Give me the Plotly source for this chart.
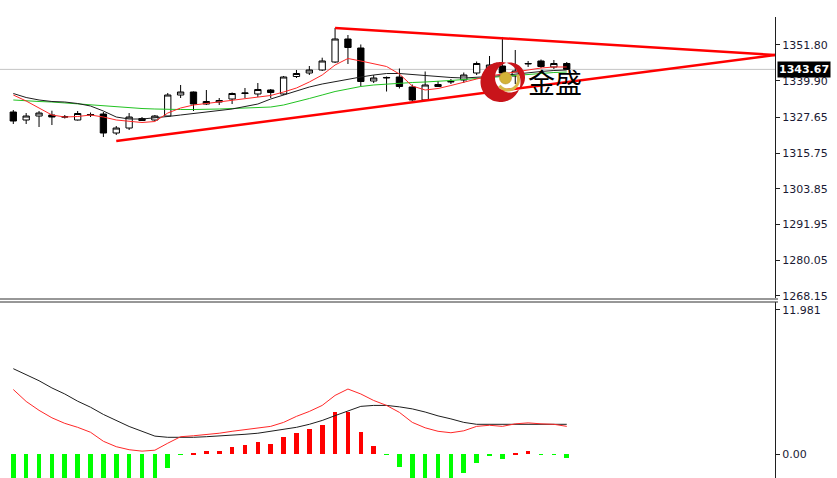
import numpy as np
import plotly.graph_objects as go
from plotly.subplots import make_subplots

# ---------------- data ----------------
bar_index = list(range(44))

opens = [1329.47, 1326.80, 1328.13, 1328.47, 1327.97, 1326.80, 1328.47, 1328.80, 1322.47, 1324.13,
         1327.30, 1326.80, 1328.13, 1335.13, 1336.13, 1332.13, 1332.80, 1333.80, 1335.63, 1335.47,
         1336.80, 1335.47, 1341.30, 1342.47, 1343.47, 1346.13, 1353.80, 1350.80, 1339.80, 1340.80,
         1341.13, 1337.80, 1333.47, 1337.97, 1339.47, 1340.13, 1342.47, 1342.80, 1344.80, 1341.47,
         1345.47, 1346.47, 1344.47, 1345.63]
highs = [1330.13, 1329.13, 1329.80, 1329.90, 1328.47, 1329.80, 1329.30, 1329.47, 1324.80, 1329.13,
         1327.80, 1328.47, 1335.80, 1338.47, 1336.30, 1336.80, 1334.13, 1335.97, 1337.47, 1339.13,
         1337.13, 1341.47, 1343.47, 1344.80, 1347.57, 1357.47, 1355.13, 1351.97, 1341.80, 1341.30,
         1343.97, 1338.63, 1342.97, 1339.80, 1340.47, 1342.63, 1346.30, 1348.13, 1354.47, 1350.13,
         1346.47, 1346.97, 1346.80, 1346.13]
lows = [1325.47, 1325.47, 1324.47, 1325.13, 1327.30, 1326.63, 1327.80, 1321.13, 1321.80, 1323.47,
        1326.47, 1326.47, 1327.80, 1334.13, 1329.80, 1331.80, 1331.80, 1332.13, 1334.13, 1334.47,
        1334.13, 1335.13, 1340.80, 1341.80, 1343.13, 1345.80, 1345.47, 1337.97, 1339.13, 1336.30,
        1337.30, 1332.97, 1333.13, 1337.80, 1338.80, 1339.13, 1341.80, 1340.80, 1340.13, 1338.80,
        1344.47, 1344.13, 1343.80, 1343.47]
closes = [1326.47, 1328.13, 1329.13, 1327.80, 1327.80, 1328.97, 1328.63, 1322.47, 1324.13, 1327.80,
          1326.63, 1328.13, 1335.13, 1336.13, 1332.13, 1332.97, 1333.30, 1335.63, 1335.80, 1336.97,
          1335.97, 1341.13, 1342.30, 1343.47, 1346.47, 1353.80, 1350.97, 1339.63, 1340.80, 1340.97,
          1337.97, 1333.47, 1338.47, 1338.63, 1339.63, 1341.80, 1345.63, 1345.13, 1342.47, 1343.13,
          1345.63, 1344.63, 1345.63, 1343.67]

ma_red = [1335.13, 1333.13, 1330.80, 1328.47, 1327.80, 1327.97, 1328.47, 1327.80, 1326.80, 1326.30,
          1325.97, 1326.30, 1329.13, 1330.80, 1331.80, 1332.30, 1332.80, 1333.47, 1333.97, 1334.47,
          1334.97, 1336.13, 1337.47, 1339.47, 1341.80, 1345.13, 1347.30, 1346.47, 1345.47, 1344.63,
          1342.13, 1338.13, 1336.80, 1337.30, 1338.30, 1339.47, 1340.47, 1341.47, 1342.13, 1342.80,
          1343.47, 1344.13, 1344.47, 1344.47]
ma_black = [1335.63, 1334.30, 1333.47, 1332.97, 1332.80, 1332.30, 1331.47, 1329.80, 1327.80, 1327.13,
            1327.13, 1327.47, 1327.97, 1328.47, 1328.97, 1329.47, 1329.80, 1330.47, 1331.30, 1332.13,
            1333.80, 1335.13, 1336.47, 1337.80, 1338.80, 1339.63, 1340.47, 1341.13, 1341.80, 1342.30,
            1342.30, 1341.97, 1341.47, 1341.13, 1340.97, 1340.80, 1340.97, 1341.30, 1341.63, 1342.13,
            1342.63, 1342.97, 1343.30, 1343.47]
ma_green = [1333.47, 1333.13, 1332.97, 1332.80, 1332.47, 1332.13, 1331.80, 1331.47, 1331.13, 1330.80,
            1330.63, 1330.47, 1330.30, 1330.30, 1330.30, 1330.30, 1330.47, 1330.63, 1330.80, 1330.97,
            1331.13, 1331.80, 1332.80, 1333.97, 1335.13, 1336.30, 1337.13, 1337.97, 1338.47, 1338.80,
            1339.13, 1339.30, 1339.47, 1339.63, 1339.97, 1340.30, 1340.63, 1341.13, 1341.47, 1341.80,
            1342.13, 1342.30, 1342.63, 1342.80]

trend_upper_x = [25, 59.18]
trend_upper_y = [1357.47, 1348.47]
trend_lower_x = [8, 59.18]
trend_lower_y = [1319.80, 1348.47]

last_price = 1343.67
price_ticks = [1351.80, 1339.90, 1327.65, 1315.75, 1303.85, 1291.95, 1280.05, 1268.15]
price_tick_text = ["1351.80", "1339.90", "1327.65", "1315.75", "1303.85", "1291.95", "1280.05", "1268.15"]

macd_hist = [-3, -3, -3, -3, -3, -3, -3, -3, -3, -3,
             -3, -3, -1.13, -0.05, 0.05, 0.27, 0.27, 0.60, 0.80, 0.97,
             0.88, 1.43, 1.80, 2.07, 2.45, 3.50, 3.50, 1.87, 0.72, -0.05,
             -1.05, -3, -3, -3, -3, -1.60, -0.77, -0.10, -0.39, 0.03,
             0.25, -0.05, -0.05, -0.33]
macd_black = [7.10, 6.60, 6.10, 5.50, 5.00, 4.40, 3.90, 3.30, 2.80, 2.30,
              1.90, 1.50, 1.40, 1.38, 1.40, 1.45, 1.50, 1.57, 1.65, 1.74,
              1.90, 2.02, 2.23, 2.48, 2.80, 3.20, 3.60, 3.97, 4.05, 4.05,
              3.93, 3.76, 3.50, 3.18, 2.93, 2.64, 2.48, 2.48, 2.48, 2.48,
              2.48, 2.48, 2.48, 2.48]
macd_red = [5.37, 4.38, 3.64, 3.02, 2.56, 2.23, 1.82, 1.07, 0.62, 0.37,
            0.25, 0.33, 0.91, 1.45, 1.53, 1.61, 1.74, 1.90, 2.02, 2.15,
            2.31, 2.64, 3.14, 3.55, 4.05, 4.88, 5.41, 5.00, 4.46, 4.05,
            3.47, 2.64, 2.19, 1.90, 1.78, 1.94, 2.31, 2.40, 2.31, 2.52,
            2.60, 2.52, 2.48, 2.31]
macd_ticks = [11.981, 0.0]
macd_tick_text = ["11.981", "0.00"]

# ---------------- layout geometry ----------------
W, H = 837, 478
axis_px = 775
x_range = [-1.033, 59.18]
price_range = [1267.48, 1361.13]
macd_range = [-1.98, 12.64]

fig = make_subplots(rows=2, cols=1, shared_xaxes=False, vertical_spacing=0)

fig.add_trace(go.Candlestick(
    x=bar_index, open=opens, high=highs, low=lows, close=closes,
    increasing=dict(line=dict(color="black", width=1), fillcolor="white"),
    decreasing=dict(line=dict(color="black", width=1), fillcolor="black"),
    whiskerwidth=0, hoverinfo="skip", showlegend=False), row=1, col=1)

for ys, col in [(ma_green, "#22c322"), (ma_black, "#1e1e1e"), (ma_red, "#ff2828")]:
    fig.add_trace(go.Scatter(x=bar_index, y=ys, mode="lines",
                             line=dict(color=col, width=1), hoverinfo="skip",
                             showlegend=False), row=1, col=1)

for tx, ty in [(trend_upper_x, trend_upper_y), (trend_lower_x, trend_lower_y)]:
    fig.add_trace(go.Scatter(x=tx, y=ty, mode="lines",
                             line=dict(color="#ff0000", width=2.5), hoverinfo="skip",
                             showlegend=False, cliponaxis=False), row=1, col=1)

hist_colors = ["#ff0000" if v > 0 else "#00ff00" for v in macd_hist]
fig.add_trace(go.Bar(x=bar_index, y=macd_hist, marker=dict(color=hist_colors, line=dict(width=0)),
                     width=0.36, hoverinfo="skip", showlegend=False), row=2, col=1)
fig.add_trace(go.Scatter(x=bar_index, y=macd_black, mode="lines",
                         line=dict(color="#1e1e1e", width=1), hoverinfo="skip",
                         showlegend=False), row=2, col=1)
fig.add_trace(go.Scatter(x=bar_index, y=macd_red, mode="lines",
                         line=dict(color="#ff2828", width=1), hoverinfo="skip",
                         showlegend=False), row=2, col=1)

xd = [0, axis_px / W]
tick_font = dict(family="DejaVu Sans", size=11, color="#1a1a33")
fig.update_layout(
    width=W, height=H, autosize=False, margin=dict(l=0, r=0, t=0, b=0, pad=0, autoexpand=False),
    paper_bgcolor="white", plot_bgcolor="white", showlegend=False,
    xaxis=dict(domain=xd, range=x_range, showgrid=False, zeroline=False,
               showticklabels=False, ticks="", rangeslider=dict(visible=False), fixedrange=True),
    xaxis2=dict(domain=xd, range=x_range, showgrid=False, zeroline=False,
                showticklabels=False, ticks="", fixedrange=True),
    yaxis=dict(domain=[1 - 298 / H, 1 - 17 / H], range=price_range, side="right",
               showgrid=False, zeroline=False, showline=True, linecolor="#202020", linewidth=1,
               ticks="outside", ticklen=4, tickcolor="#202020", automargin=False,
               tickvals=price_ticks, ticktext=price_tick_text, tickfont=tick_font),
    yaxis2=dict(domain=[0, 1 - 302 / H], range=macd_range, side="right",
                showgrid=False, zeroline=False, showline=True, linecolor="#202020", linewidth=1,
                ticks="outside", ticklen=4, tickcolor="#202020", automargin=False,
                tickvals=macd_ticks, ticktext=macd_tick_text, tickfont=tick_font),
    bargap=0,
)

def px_x(p):
    return p / W

def px_y(p):
    return 1 - p / H

shapes = []
shapes.append(dict(type="line", xref="x domain", yref="y", x0=0, x1=1,
                   y0=last_price, y1=last_price, line=dict(color="#c4c4c4", width=1), layer="below"))
for py in (299, 302):
    shapes.append(dict(type="line", xref="paper", yref="paper", x0=0, x1=px_x(778),
                       y0=px_y(py), y1=px_y(py), line=dict(color="#303030", width=1)))

cx, cy, r = 500.5, 82.0, 20.0
icx, icy, ir = 510.0, 77.5, 15.0
t = np.linspace(0, 2 * np.pi, 90)
outer = [(cx + r * np.cos(a), cy + r * np.sin(a)) for a in t]
inner = [(icx + ir * np.cos(a), icy + ir * np.sin(a)) for a in t[::-1]]

def to_path(pts):
    return "M " + " L ".join(f"{px_x(x):.5f},{px_y(y):.5f}" for x, y in pts) + " Z"

shapes.append(dict(type="path", xref="paper", yref="paper",
                   path=to_path(outer) + " " + to_path(inner),
                   fillcolor="#c8141a", line=dict(width=0)))
ta = np.linspace(-0.15 * np.pi, 0.8 * np.pi, 30)
ring_o = [(icx - 2 + 12 * np.cos(a), icy + 2 + 12 * np.sin(a)) for a in ta]
ring_i = [(icx - 2 + 9 * np.cos(a), icy + 2 + 9 * np.sin(a)) for a in ta[::-1]]
shapes.append(dict(type="path", xref="paper", yref="paper", path=to_path(ring_o + ring_i),
                   fillcolor="#d6b84a", line=dict(width=0)))
shapes.append(dict(type="circle", xref="paper", yref="paper",
                   x0=px_x(499.5), x1=px_x(511.5), y0=px_y(84), y1=px_y(72),
                   fillcolor="#d4b238", line=dict(color="#a88a20", width=0.5)))
fig.update_layout(shapes=shapes)

annotations = [
    dict(xref="paper", yref="y", x=px_x(777), y=last_price, xanchor="left", yanchor="middle",
         text="<b>1343.67</b>", showarrow=False, bgcolor="black",
         font=dict(family="DejaVu Sans", size=11, color="white"), borderpad=1),
    dict(xref="paper", yref="paper", x=px_x(526), y=px_y(82), xanchor="left", yanchor="middle",
         text="金盛", showarrow=False,
         font=dict(family="Noto Sans CJK SC", size=27, color="black")),
]
fig.update_layout(annotations=annotations)

fig.write_html("out.html", config={"displayModeBar": False, "responsive": False},
               post_script="document.body.style.margin='0';document.body.style.overflow='hidden';")
